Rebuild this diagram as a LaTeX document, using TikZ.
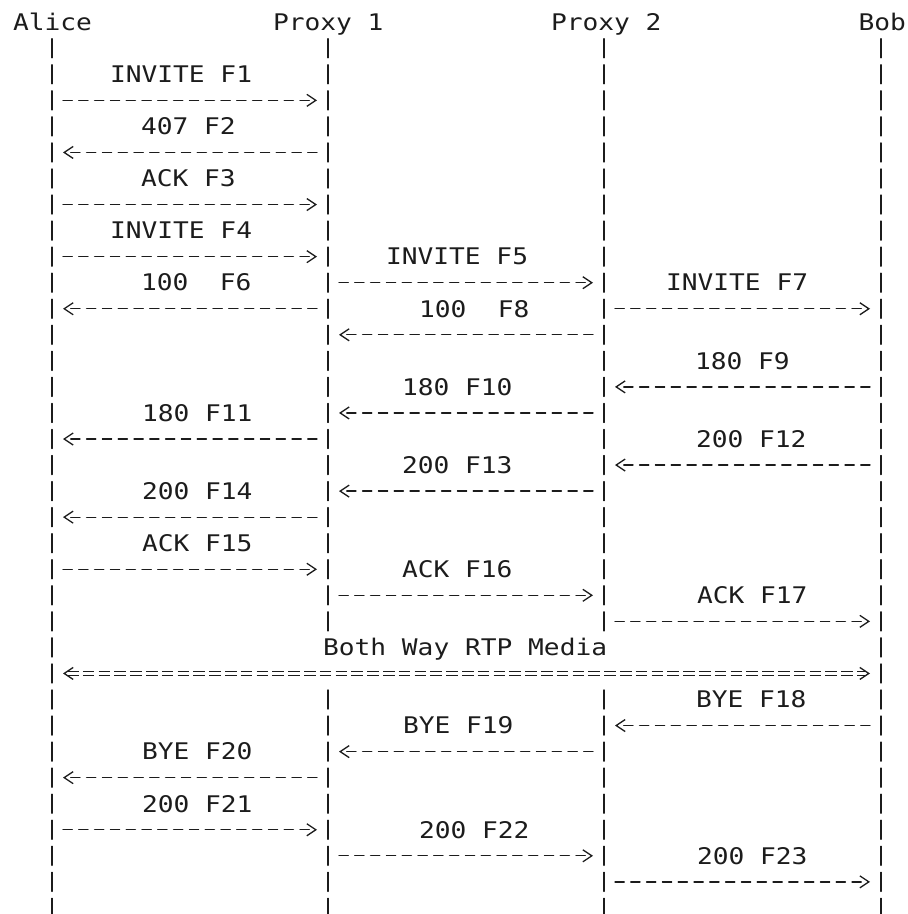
\documentclass[tikz,border=0pt]{standalone}
\usepackage{fontspec}
\usepackage{xcolor}
\usepackage{tikz}
\usetikzlibrary{arrows.meta}
\newfontfamily\flowfont{DejaVu Sans Mono}[FakeStretch=1.145]
\definecolor{ink}{HTML}{1C1C1C}
\tikzset{
    every picture/.style={line cap=round,line join=round},
    actorname/.style={inner sep=0pt,outer sep=0pt,anchor=base west,text=ink,
      font=\flowfont\fontsize{11.45pt}{13pt}\selectfont},
    msglabel/.style={actorname},
    lifeline/.style={draw=ink,line width=0.7pt,dash pattern=on 9.5pt off 3.525pt,
      shorten <=-4.75pt,shorten >=-4.75pt},
    msgarrow/.style={->,draw=ink,line width=0.65pt,dash pattern=on 4.6pt off 3.3pt,
      shorten <=5.5pt,shorten >=5.5pt},
    mediabar/.style={draw=ink,-,line width=0.55pt,line cap=butt,
      dash pattern=on 5.8pt off 2.1pt,shorten <=7.5pt,shorten >=7.5pt,
      transform canvas={yshift=#1}},
    mediaarrow/.style={<->,draw=ink,line width=0.65pt,line cap=butt,
      dash pattern=on 0pt off 2000pt,shorten <=5.5pt,shorten >=5.5pt,
      preaction={mediabar=1.1pt},preaction={mediabar=-1.1pt}}
}
\begin{document}
\begin{tikzpicture}[x=0.5pt,y=-0.5pt,>={Straight Barb[length=4.5pt,width=6pt]}]
  \useasboundingbox (0,0) rectangle (907,914);
  \foreach \r in {1,...,34}
    \foreach \n/\x in {al/52,pa/328,pb/604,bo/881}
      \coordinate (\n\r) at (\x,{22.2+26.05*\r});
  \node[actorname] (alice) at (13,30.5) {Alice};
  \node[actorname] (proxy1) at (273,30.5) {Proxy 1};
  \node[actorname] (proxy2) at (551,30.5) {Proxy 2};
  \node[actorname,anchor=base east] (bob) at (906,30.5) {Bob};
  \draw[lifeline] (al1) -- (al34);
  \draw[lifeline] (pa1) -- (pa23);
  \draw[lifeline] (pa26) -- (pa34);
  \draw[lifeline] (pb1) -- (pb23);
  \draw[lifeline] (pb26) -- (pb34);
  \draw[lifeline] (bo1) -- (bo34);
  \foreach \r/\s/\t/\lx/\txt [count=\k] in {
      3/al/pa/110/INVITE F1, 5/pa/al/141/407 F2, 7/al/pa/141/ACK F3,
      9/al/pa/110/INVITE F4, 10/pa/pb/386/INVITE F5, 11/pa/al/141/100\ \ F6,
      11/pb/bo/666/INVITE F7, 12/pb/pa/419/100\ \ F8, 14/bo/pb/695/180 F9,
      15/pb/pa/402/180 F10, 16/pa/al/142/180 F11, 17/bo/pb/696/200 F12,
      18/pb/pa/402/200 F13, 19/pa/al/142/200 F14, 21/al/pa/142/ACK F15,
      22/pa/pb/402/ACK F16, 23/pb/bo/697/ACK F17, 27/bo/pb/696/BYE F18,
      28/pb/pa/403/BYE F19, 29/pa/al/142/BYE F20, 31/al/pa/142/200 F21,
      32/pa/pb/419/200 F22, 33/pb/bo/697/200 F23} {
    \draw[msgarrow] (\s\r) -- (\t\r);
    \node[msglabel] (f\k) at (\lx,{4.45+26.05*\r}) {\txt};
  }
  \node[msglabel] (media) at (323,{30.5+26.05*24}) {Both Way RTP Media};
  \draw[mediaarrow] (al25) -- (bo25);
\end{tikzpicture}
\end{document}
